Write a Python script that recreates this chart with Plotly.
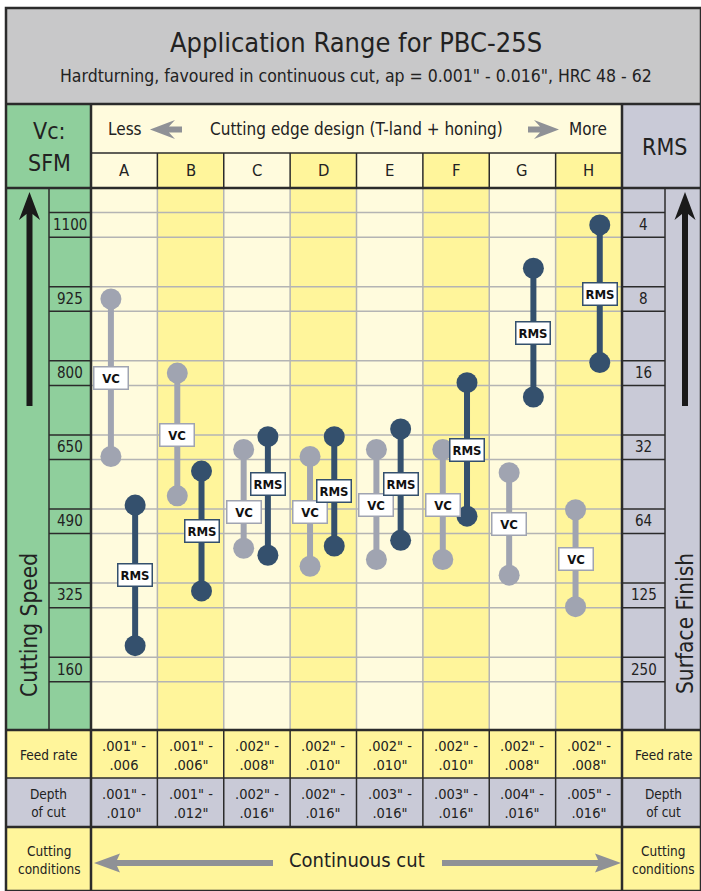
import numpy as np
import plotly.graph_objects as go

W, H = 701, 891

# ---- data ----
grades = ["A", "B", "C", "D", "E", "F", "G", "H"]
vc_ticks = [160, 325, 490, 650, 800, 925, 1100]
rms_ticks = [250, 125, 64, 32, 16, 8, 4]

# cutting speed range (SFM) and where its label sits
vc_low = [630, 545, 430, 390, 405, 405, 370, 300]
vc_high = [925, 800, 645, 630, 645, 645, 595, 515]
vc_label = [790, 675, 510, 510, 525, 525, 485, 405]

# surface finish range (RMS) and where its label sits
rms_low = [200, 120, 87, 80, 76, 61, 20, 14.5]     # rougher end
rms_high = [55, 40, 29, 29, 27, 17.5, 6, 4]        # finer end
rms_label = [104, 70, 45, 48, 45, 33, 11, 7.6]

feed_rate = ['.001" -<br>.006', '.001" -<br>.006"', '.002" -<br>.008"', '.002" -<br>.010"',
             '.002" -<br>.010"', '.002" -<br>.010"', '.002" -<br>.008"', '.002" -<br>.008"']
depth_cut = ['.001" -<br>.010"', '.001" -<br>.012"', '.002" -<br>.016"', '.002" -<br>.016"',
             '.003" -<br>.016"', '.003" -<br>.016"', '.004" -<br>.016"', '.005" -<br>.016"']

# ---- style ----
FONT = "Liberation Sans Narrow, DejaVu Sans Condensed, Arial Narrow, sans-serif"
TXT = "#222222"
GREEN = "#8fcf9c"
CREAM = "#fffbdd"
YELLOW = "#fff59b"
BLUEGRAY = "#c9cad7"
TITLEGRAY = "#c8c8c9"
VCGRAY = "#a0a4b1"
NAVY = "#34506d"
LINE = "#2b2b2b"
GRID = "#b4b4b4"
ARROWGRAY = "#8f9196"


def X(p):
    return p / W


def Y(p):
    return 1 - p / H


def vc_pos(v):
    return np.interp(v, vc_ticks, range(len(vc_ticks)))


def rms_pos(v):
    return np.interp(-np.log2(v), -np.log2(rms_ticks), range(len(rms_ticks)))


shapes = []
annotations = []


def rect(x0, y0, x1, y1, fill, layer="below"):
    shapes.append(dict(type="rect", xref="paper", yref="paper", x0=X(x0), x1=X(x1),
                       y0=Y(y0), y1=Y(y1), fillcolor=fill, line_width=0, layer=layer))


def hline(x0, x1, y, color=LINE, w=1.5):
    shapes.append(dict(type="line", xref="paper", yref="paper", x0=X(x0), x1=X(x1),
                       y0=Y(y), y1=Y(y), line=dict(color=color, width=w)))


def vline(x, y0, y1, color=LINE, w=1.5):
    shapes.append(dict(type="line", xref="paper", yref="paper", x0=X(x), x1=X(x),
                       y0=Y(y0), y1=Y(y1), line=dict(color=color, width=w)))


def poly(pts, color):
    d = "M " + " L ".join("{:.5f},{:.5f}".format(X(a), Y(b)) for a, b in pts) + " Z"
    shapes.append(dict(type="path", xref="paper", yref="paper", path=d,
                       fillcolor=color, line_width=0))


def note(x, y, s, size, xref="paper", yref="paper", bold=False, angle=0, **kw):
    annotations.append(dict(x=x, y=y, xref=xref, yref=yref, text=s, showarrow=False,
                            xanchor="center", yanchor="middle", textangle=angle,
                            font=dict(family=FONT, size=size, color=kw.pop("color", TXT),
                                      weight="bold" if bold else "normal"), **kw))


def text(x, y, s, size, **kw):
    note(X(x), Y(y), s, size, **kw)


# plot area in pixels
PL, PR, PT, PB = 91, 622, 188, 729
y_lo, y_hi = -0.803, 6.498

# background blocks
rect(6, 8, 701, 104, TITLEGRAY)
rect(6, 104, 91, 730, GREEN)
rect(91, 104, 622, 153, CREAM)
rect(622, 104, 701, 730, BLUEGRAY)
rect(6, 730, 701, 778, YELLOW)
rect(6, 778, 701, 827, BLUEGRAY)
rect(6, 827, 701, 891, YELLOW)

# column stripes (letter row + plot)
for i in range(len(grades)):
    shapes.append(dict(type="rect", xref="x", yref="paper", x0=i - 0.5, x1=i + 0.5,
                       y0=Y(PB), y1=Y(153), fillcolor=CREAM if i % 2 == 0 else YELLOW,
                       line_width=0, layer="below"))

# grid: tick bands
for k in range(len(vc_ticks)):
    for edge in (k - 0.166, k + 0.166):
        shapes.append(dict(type="line", xref="paper", yref="y", x0=X(PL), x1=X(PR),
                           y0=edge, y1=edge, line=dict(color=GRID, width=1.5), layer="below"))
        for a, b in ((49, PL), (PR, 665)):
            shapes.append(dict(type="line", xref="paper", yref="y", x0=X(a), x1=X(b),
                               y0=edge, y1=edge, line=dict(color=LINE, width=1.5)))
    note(X(70), k, str(vc_ticks[k]), 15, yref="y")
    note(X(643.5), k, str(rms_ticks[k]), 15, yref="y")

for i in range(len(grades) - 1):
    shapes.append(dict(type="line", xref="x", yref="paper", x0=i + 0.5, x1=i + 0.5,
                       y0=Y(PB), y1=Y(PT), line=dict(color=GRID, width=1.5), layer="below"))
    for a, b in ((153, PT), (730, 827)):
        shapes.append(dict(type="line", xref="x", yref="paper", x0=i + 0.5, x1=i + 0.5,
                           y0=Y(b), y1=Y(a), line=dict(color=LINE, width=1.5)))

# frame lines
vline(49, PT, 730)
vline(665, PT, 730)
hline(91, 622, 153)
hline(6, 701, 104, w=2.5)
hline(6, 701, PT, w=2.5)
hline(6, 701, 730, w=2.5)
hline(6, 701, 778)
hline(6, 701, 827, w=2.5)
vline(PL, 104, 891, w=2.5)
vline(PR, 104, 891, w=2.5)
shapes.append(dict(type="rect", xref="paper", yref="paper", x0=X(6), x1=X(701),
                   y0=Y(891), y1=Y(8), line=dict(color=LINE, width=2.5)))

# arrows
for ax in (29.5, 685):
    poly([(ax - 3, 406), (ax - 3, 214), (ax - 10.5, 220), (ax, 192), (ax + 10.5, 220),
          (ax + 3, 214), (ax + 3, 406)], "#1a1a1a")
poly([(150, 129.5), (175, 120), (169, 126.5), (182, 126.5), (182, 132.5),
      (169, 132.5), (175, 139)], ARROWGRAY)
poly([(559, 129.5), (534, 120), (540, 126.5), (528, 126.5), (528, 132.5),
      (540, 132.5), (534, 139)], ARROWGRAY)
poly([(94, 863), (120, 853.5), (117, 860), (273, 860), (273, 866), (117, 866),
      (120, 872.5)], ARROWGRAY)
poly([(621, 863), (595, 853.5), (598, 860), (442, 860), (442, 866), (598, 866),
      (595, 872.5)], ARROWGRAY)

# texts
text(356.5, 42, "Application Range for PBC-25S", 27)
text(356.5, 76, 'Hardturning, favoured in continuous cut, ap = 0.001" - 0.016", HRC 48 - 62', 17.5)
text(49, 131, "Vc:", 23)
text(49, 163, "SFM", 23)
text(664, 147, "RMS", 23)
text(125, 129, "Less", 17)
text(588, 129, "More", 17)
text(356.5, 129, "Cutting edge design (T-land + honing)", 17)
text(29, 625, "Cutting Speed", 22.5, angle=-90)
text(685, 624, "Surface Finish", 22.5, angle=-90)
text(48.5, 755, "Feed rate", 13.5)
text(663, 755, "Feed rate", 13.5)
text(48.5, 803, "Depth<br>of cut", 13.5)
text(663, 803, "Depth<br>of cut", 13.5)
text(48.5, 860, "Cutting<br>conditions", 13.5)
text(663, 860, "Cutting<br>conditions", 13.5)
text(357, 860, "Continuous cut", 20)

for i, g in enumerate(grades):
    note(i, Y(170.5), g, 16.5, xref="x")
    note(i, Y(755), feed_rate[i], 14.5, xref="x")
    note(i, Y(803), depth_cut[i], 14.5, xref="x")

# ---- dumbbells ----
VC_OFF, RMS_OFF = -0.2, 0.165
fig = go.Figure()


def dumbbell(lo, hi, off, color):
    xs, ys = [], []
    for i in range(len(grades)):
        xs += [i + off, i + off, None]
        ys += [lo[i], hi[i], None]
    fig.add_trace(go.Scatter(x=xs, y=ys, mode="lines+markers", hoverinfo="skip",
                             line=dict(color=color, width=6),
                             marker=dict(color=color, size=21)))


dumbbell(vc_pos(vc_low), vc_pos(vc_high), VC_OFF, VCGRAY)
dumbbell(rms_pos(rms_low), rms_pos(rms_high), RMS_OFF, NAVY)

for lab, pos, off, col in (("VC", vc_pos(vc_label), VC_OFF, VCGRAY),
                           ("RMS", rms_pos(rms_label), RMS_OFF, NAVY)):
    for i in range(len(grades)):
        note(i + off, pos[i], lab, 13, xref="x", yref="y", bold=True, color="#111111",
             bgcolor="white", bordercolor=col, borderwidth=1.5, borderpad=1,
             width=31, height=19)

fig.update_layout(
    width=W, height=H, margin=dict(l=0, r=0, t=0, b=0),
    paper_bgcolor="white", plot_bgcolor="rgba(0,0,0,0)", showlegend=False,
    xaxis=dict(domain=[X(PL), X(PR)], range=[-0.5, 7.5], visible=False, fixedrange=True),
    yaxis=dict(domain=[Y(PB), Y(PT)], range=[y_lo, y_hi], visible=False, fixedrange=True),
    shapes=shapes, annotations=annotations,
)

fig.write_html("out.html", config={"displayModeBar": False},
               post_script="document.body.style.margin = '0px';")
